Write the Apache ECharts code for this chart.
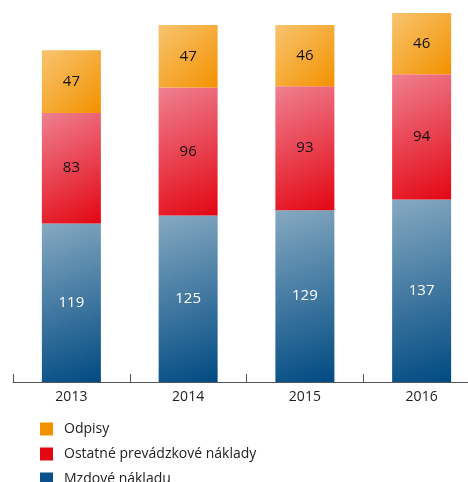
<!DOCTYPE html>
<html><head><meta charset="utf-8">
<script src="https://cdn.jsdelivr.net/npm/echarts@6/dist/echarts.min.js"></script>
<style>html,body{margin:0;padding:0;background:#fff}#c{width:468px;height:482px}</style>
</head><body><div id="c"></div>
<script>
const years = ['2013', '2014', '2015', '2016'];
const mzdove = [119, 125, 129, 137];
const ostatne = [83, 96, 93, 94];
const odpisy = [47, 47, 46, 46];
const names = ['Odpisy', 'Ostatné prevádzkové náklady', 'Mzdové nákladu'];

const FONT = '"Open Sans", "Noto Sans", sans-serif';
function grad(c0, c1) {
  return new echarts.graphic.LinearGradient(0, 0, 1, 1, [
    {offset: 0, color: c0}, {offset: 1, color: c1}
  ]);
}
const chart = echarts.init(document.getElementById('c'), null, {renderer: 'canvas'});
function mk(name, data, c0, c1, labelColor) {
  return {
    name: name, type: 'bar', stack: 'a', data: data, barWidth: 59,
    itemStyle: {color: grad(c0, c1)},
    label: {show: true, position: 'inside', color: labelColor, fontSize: 15, fontFamily: FONT},
    emphasis: {disabled: true}
  };
}
chart.setOption({
  animation: false,
  grid: {left: 13, width: 467, top: 13, height: 369, containLabel: false, outerBoundsMode: 'none'},
  xAxis: {
    type: 'category', data: years,
    axisLine: {lineStyle: {color: '#555', width: 1}},
    axisTick: {show: true, inside: true, length: 8, alignWithLabel: false, interval: 0, lineStyle: {color: '#555', width: 1}},
    axisLabel: {color: '#222', fontSize: 14, fontFamily: FONT, margin: 8}
  },
  yAxis: {type: 'value', min: 0, max: 277, show: false, splitLine: {show: false}},
  legend: {
    orient: 'vertical', left: 35, top: 417, height: 80, padding: 5, itemWidth: 13, itemHeight: 13, itemGap: 11,
    textStyle: {fontSize: 14, color: '#222', fontFamily: FONT, padding: [0, 0, 0, 6]},
    data: [
      {name: names[0], itemStyle: {color: '#f39200'}, icon: 'rect'},
      {name: names[1], itemStyle: {color: '#e30613'}, icon: 'rect'},
      {name: names[2], itemStyle: {color: '#0a508a'}, icon: 'rect'}
    ]
  },
  series: [
    mk(names[2], mzdove, '#86a9c1', '#004a82', '#fff'),
    mk(names[1], ostatne, '#ef8090', '#e30613', '#111'),
    mk(names[0], odpisy, '#f8c46f', '#f39200', '#111')
  ]
});
</script></body></html>
